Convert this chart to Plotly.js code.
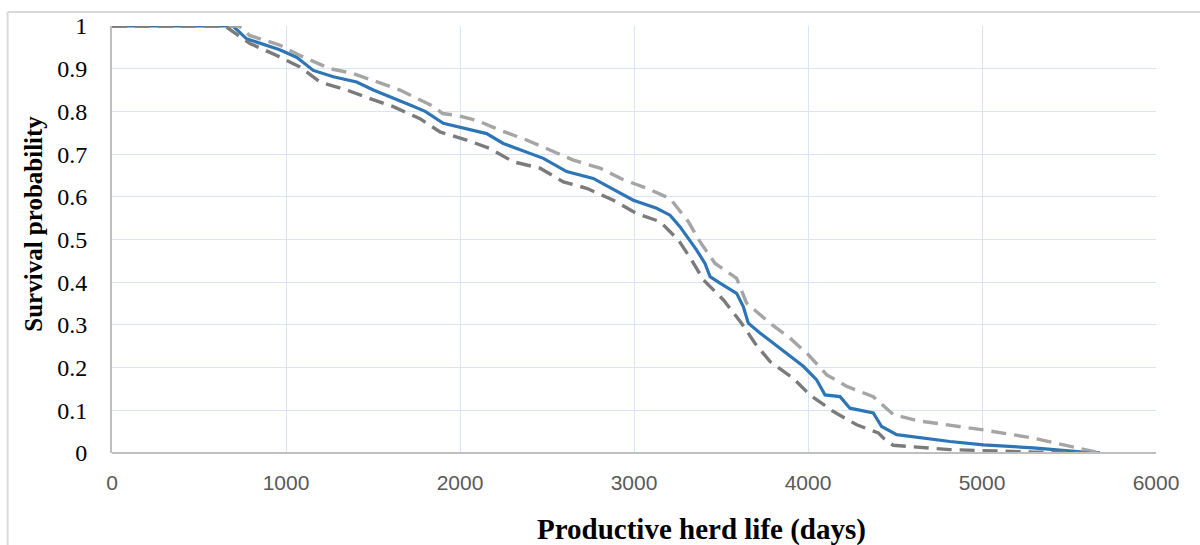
<!DOCTYPE html>
<html>
<head>
<meta charset="utf-8">
<script src="https://cdn.plot.ly/plotly-3.0.1.min.js"></script>
<style>
html,body{margin:0;padding:0;background:#fff;}
#chart{width:1200px;height:545px;}
</style>
</head>
<body>
<div id="chart"></div>
<script>
// Survival estimate
const survDays = [0, 695, 774, 851, 960, 1061, 1157, 1272, 1406, 1502, 1655, 1713, 1800, 1904, 2153, 2249, 2479, 2613, 2766, 2996, 3130, 3207, 3264, 3360, 3408, 3437, 3494, 3590, 3628, 3657, 3724, 3839, 3973, 4050, 4098, 4184, 4241, 4375, 4423, 4510, 4816, 5008, 5295, 5582, 5678];
const survProb = [1, 1, 0.970, 0.959, 0.945, 0.927, 0.896, 0.881, 0.869, 0.850, 0.826, 0.815, 0.800, 0.772, 0.748, 0.725, 0.690, 0.659, 0.643, 0.592, 0.573, 0.557, 0.530, 0.475, 0.444, 0.413, 0.398, 0.374, 0.343, 0.304, 0.281, 0.246, 0.203, 0.171, 0.136, 0.132, 0.105, 0.094, 0.062, 0.043, 0.027, 0.019, 0.012, 0.002, 0];
// Upper confidence bound
const upperDays = [0, 730, 790, 966, 1080, 1253, 1385, 1521, 1655, 1730, 1845, 1900, 1990, 2096, 2230, 2383, 2517, 2651, 2805, 2939, 3073, 3207, 3312, 3379, 3466, 3590, 3647, 3782, 3897, 4002, 4108, 4223, 4375, 4490, 4624, 5008, 5295, 5544, 5678];
const upperProb = [1, 1, 0.978, 0.955, 0.931, 0.900, 0.889, 0.869, 0.850, 0.835, 0.812, 0.795, 0.790, 0.779, 0.756, 0.733, 0.709, 0.686, 0.667, 0.640, 0.620, 0.596, 0.542, 0.495, 0.444, 0.409, 0.351, 0.304, 0.269, 0.230, 0.183, 0.156, 0.132, 0.090, 0.076, 0.054, 0.035, 0.012, 0];
// Lower confidence bound
const lowerDays = [0, 650, 697, 793, 947, 1080, 1195, 1349, 1483, 1617, 1770, 1885, 2038, 2172, 2306, 2460, 2594, 2728, 2881, 3015, 3149, 3255, 3331, 3398, 3513, 3618, 3695, 3782, 3915, 4011, 4146, 4280, 4404, 4433, 4490, 4816, 5295, 5678];
const lowerProb = [1, 1, 0.986, 0.959, 0.931, 0.904, 0.869, 0.850, 0.830, 0.811, 0.783, 0.752, 0.733, 0.713, 0.682, 0.667, 0.635, 0.620, 0.592, 0.561, 0.542, 0.499, 0.452, 0.406, 0.359, 0.304, 0.257, 0.214, 0.175, 0.136, 0.097, 0.066, 0.047, 0.035, 0.018, 0.008, 0.002, 0];

const xTicks = [0, 1000, 2000, 3000, 4000, 5000, 6000];
const yTicks = [0, 0.1, 0.2, 0.3, 0.4, 0.5, 0.6, 0.7, 0.8, 0.9, 1];
const yTickText = ['0', '0.1', '0.2', '0.3', '0.4', '0.5', '0.6', '0.7', '0.8', '0.9', '1'];

const traces = [
  {x: survDays, y: survProb, type: 'scatter', mode: 'lines', line: {color: '#2E75B6', width: 3.2}, hoverinfo: 'skip'},
  {x: upperDays, y: upperProb, type: 'scatter', mode: 'lines', line: {color: '#A5A5A5', width: 3.4, dash: '15px,8px'}, hoverinfo: 'skip'},
  {x: lowerDays, y: lowerProb, type: 'scatter', mode: 'lines', line: {color: '#7B7B7B', width: 3.4, dash: '15px,8px'}, hoverinfo: 'skip'}
];

const layout = {
  width: 1200, height: 545,
  margin: {l: 112, r: 44, t: 26, b: 92},
  paper_bgcolor: '#fff', plot_bgcolor: '#fff',
  showlegend: false,
  xaxis: {
    range: [0, 6000], tickvals: xTicks, ticktext: xTicks.map(String),
    showgrid: true, gridcolor: '#D9E5F4', gridwidth: 1,
    zeroline: false, showline: false, ticks: '',
    tickfont: {family: 'Liberation Sans, Arial, sans-serif', size: 21, color: '#595959'},
    ticklabelstandoff: 15
  },
  yaxis: {
    range: [0, 1], tickvals: yTicks, ticktext: yTickText,
    showgrid: true, gridcolor: '#D9E5F4', gridwidth: 1,
    zeroline: false, showline: true, linecolor: '#BFBFBF', linewidth: 2, ticks: '',
    tickfont: {family: 'Liberation Serif, Times New Roman, serif', size: 24, color: '#000'},
    ticklabelstandoff: 18
  },
  shapes: [
    {type: 'line', xref: 'paper', yref: 'paper', x0: 0, x1: 1, y0: 0, y1: 0, line: {color: '#BFBFBF', width: 2}},
    {type: 'line', xref: 'paper', yref: 'paper', x0: -0.1, x1: 1.1, y0: 1.033, y1: 1.033, line: {color: '#D9D9D9', width: 2}},
    {type: 'line', xref: 'paper', yref: 'paper', x0: -0.1, x1: -0.1, y0: 1.033, y1: -0.25, line: {color: '#D9D9D9', width: 2}}
  ],
  annotations: [
    {text: '<b>Survival probability</b>', xref: 'paper', yref: 'paper', x: -0.0747, y: 0.537, textangle: -90, showarrow: false,
     font: {family: 'Liberation Serif, Times New Roman, serif', size: 25, color: '#000'}, xanchor: 'center', yanchor: 'middle'},
    {text: '<b>Productive herd life (days)</b>', xref: 'paper', yref: 'paper', x: 0.5651, y: -0.180, showarrow: false,
     font: {family: 'Liberation Serif, Times New Roman, serif', size: 29, color: '#000'}, xanchor: 'center', yanchor: 'middle'}
  ]
};

Plotly.newPlot('chart', traces, layout, {staticPlot: true, displayModeBar: false});
</script>
</body>
</html>
